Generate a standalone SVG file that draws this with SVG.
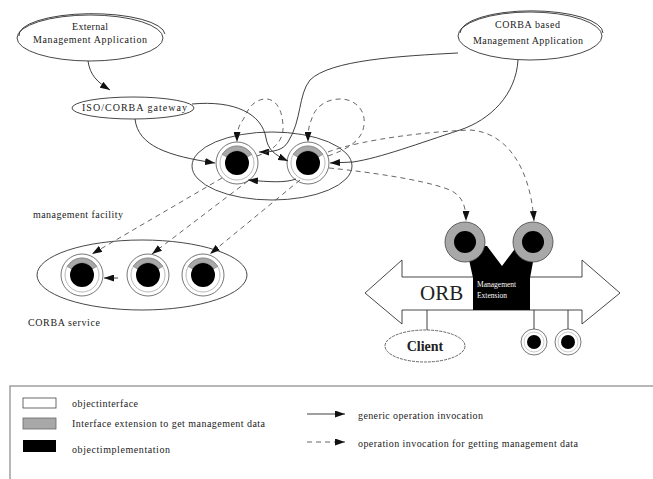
<svg xmlns="http://www.w3.org/2000/svg" xmlns:xlink="http://www.w3.org/1999/xlink" width="653" height="479" viewBox="0 0 653 479">
<style>
.ln{fill:none;stroke:#2a2a2a;stroke-width:0.9}
.ds{fill:none;stroke:#555;stroke-width:0.9;stroke-dasharray:5,4}
.el{fill:#fff;stroke:#333;stroke-width:0.9}
.t{font-family:"Liberation Serif","Times New Roman",serif;fill:#222}
.sm{font-size:10px}
.lg{font-size:10px}
</style>
<defs>
<marker id="ah" viewBox="0 0 10 7" refX="10" refY="3.5" markerWidth="10" markerHeight="7" markerUnits="userSpaceOnUse" orient="auto">
<path d="M0,0 L10,3.5 L0,7 Z" fill="#111"/>
</marker>
<g id="fobj">
<circle r="21" fill="#fff" stroke="#555" stroke-width="0.8"/>
<circle r="17" fill="none" stroke="#888" stroke-width="0.6"/>
<path d="M-14.7,-8.5 A17,17 0 0 1 14.7,-8.5 L10.4,-6 A12,12 0 0 0 -10.4,-6 Z" fill="#a8a8a8" stroke="#666" stroke-width="0.5"/>
<circle r="12" fill="#000"/>
</g>
<g id="oobj">
<circle r="20" fill="#a8a8a8" stroke="#444" stroke-width="0.8"/>
<circle r="11" fill="#000"/>
</g>
<g id="sobj">
<circle r="13" fill="#fff" stroke="#555" stroke-width="0.8"/>
<circle r="10" fill="none" stroke="#999" stroke-width="0.5"/>
<circle r="7" fill="#000"/>
</g>
</defs>
<rect width="653" height="479" fill="#fff"/>

<g id="external-app">
<ellipse class="el" cx="90" cy="38" rx="73" ry="23"/>
<path class="ln" d="M19,36 A72,21 0 0 1 165,34"/>
<text class="t sm" x="72" y="30" textLength="36">External</text>
<text class="t sm" x="33" y="43" textLength="114">Management Application</text>
</g>

<g id="corba-app">
<ellipse class="el" cx="530" cy="36" rx="72" ry="24"/>
<path class="ln" d="M460,33 A71,22 0 0 1 603,33"/>
<text class="t sm" x="495" y="28" textLength="65">CORBA based</text>
<text class="t sm" x="473" y="44" textLength="110">Management Application</text>
</g>

<g id="gateway">
<ellipse class="el" cx="133" cy="108" rx="61" ry="11"/>
<text class="t sm" x="82" y="111" textLength="105">ISO/CORBA gateway</text>
</g>

<g id="management-facility">
<ellipse class="el" cx="272" cy="166" rx="80" ry="34"/>
<text class="t sm" x="33" y="218" textLength="90">management facility</text>
</g>
<g id="mf-object-1"><use xlink:href="#fobj" x="237" y="163"/></g>
<g id="mf-object-2"><use xlink:href="#fobj" x="308" y="163"/></g>

<g id="corba-service">
<ellipse class="el" cx="142" cy="275" rx="105" ry="35"/>
<text class="t sm" x="28" y="326" textLength="72">CORBA service</text>
</g>
<g id="cs-object-1"><use xlink:href="#fobj" x="82" y="275"/></g>
<g id="cs-object-2"><use xlink:href="#fobj" x="148" y="275"/></g>
<g id="cs-object-3"><use xlink:href="#fobj" x="203" y="275"/></g>

<g id="orb">
<polygon points="365,293 402,260 402,277 582,277 582,260 620,293 582,324 582,310 402,310 402,324" fill="#fff" stroke="#333" stroke-width="0.9"/>
<text class="t" x="420" y="300" font-size="21">ORB</text>
</g>
<g id="management-extension">
<path d="M466,246 L487,246 L502,266 L517,246 L536,246 L530,278 L530,310 L473,310 L473,278 Z" fill="#000"/>
<text class="t" x="477" y="287" font-size="7.5" style="fill:#fff">Management</text>
<text class="t" x="477" y="298" font-size="7.5" style="fill:#fff">Extension</text>
</g>
<g id="orb-object-1"><use xlink:href="#oobj" x="465" y="242"/></g>
<g id="orb-object-2"><use xlink:href="#oobj" x="533" y="242"/></g>

<g id="client">
<ellipse cx="425" cy="346" rx="40" ry="16" fill="#fff" stroke="#555" stroke-width="0.9" stroke-dasharray="3,1"/>
<text class="t" x="425" y="351" font-size="14" font-weight="bold" text-anchor="middle">Client</text>
</g>
<g id="server-object-1"><use xlink:href="#sobj" x="534" y="342"/></g>
<g id="server-object-2"><use xlink:href="#sobj" x="568" y="342"/></g>

<g id="connectors">
<path class="ln" d="M88,61 C90,75 97,82 110,90" marker-end="url(#ah)"/>
<path class="ln" d="M135,119 C138,146 168,156 215,163" marker-end="url(#ah)"/>
<path class="ln" d="M192,104 C235,100 262,114 266,138 C268,150 275,155 288,161" marker-end="url(#ah)"/>
<path class="ln" d="M458,53 C400,56 330,60 310,80 C298,95 302,120 288,142 C283,150 275,152 259,152" marker-end="url(#ah)"/>
<path class="ln" d="M518,60 C516,95 490,120 460,130 C420,143 380,158 353,162 L330,163" marker-end="url(#ah)"/>
<path class="ln" d="M296,179 C285,183 270,182 248,180" marker-end="url(#ah)"/>
<path class="ds" d="M257,156 C275,150 284,140 283,125 C282,108 275,99 266,99 C255,99 248,108 244,118 C241,124 237,125 237,142" marker-end="url(#ah)"/>
<path class="ds" d="M328,156 C345,150 362,142 364,125 C366,110 355,99 340,99 C325,99 315,108 312,118 C310,124 308,126 308,142" marker-end="url(#ah)"/>
<path class="ds" d="M328,152 C345,145 400,133 470,130 C505,132 530,165 534,221" marker-end="url(#ah)"/>
<path class="ds" d="M329,168 C350,170 420,178 450,190 C462,196 466,205 466,221" marker-end="url(#ah)"/>
<path class="ds" d="M222,178 L92,254" marker-end="url(#ah)"/>
<path class="ds" d="M248,181 L152,254" marker-end="url(#ah)"/>
<path class="ds" d="M300,180 L210,254" marker-end="url(#ah)"/>
<path class="ln" d="M118,278 L104,278" marker-end="url(#ah)"/>
<path class="ln" d="M427,310 L427,330 M534,310 L534,329 M568,310 L568,329"/>
</g>

<g id="legend">
<rect x="10" y="386" width="660" height="100" fill="none" stroke="#999" stroke-width="1.4"/>
<rect x="23" y="398" width="33" height="10" fill="#fff" stroke="#444" stroke-width="0.8"/>
<rect x="23" y="418" width="33" height="11" fill="#a8a8a8" stroke="#666" stroke-width="0.8"/>
<rect x="23" y="440" width="33" height="12" fill="#000"/>
<text class="t lg" x="72" y="407" textLength="66">objectinterface</text>
<text class="t lg" x="72" y="427" textLength="193">Interface extension to get management data</text>
<text class="t lg" x="72" y="453" textLength="98">objectimplementation</text>
<path class="ln" d="M307,414 L345,414" marker-end="url(#ah)"/>
<path class="ds" d="M307,442 L345,442" marker-end="url(#ah)"/>
<text class="t lg" x="358" y="419" textLength="125">generic operation invocation</text>
<text class="t lg" x="358" y="447" textLength="220">operation invocation for getting management data</text>
</g>
</svg>
